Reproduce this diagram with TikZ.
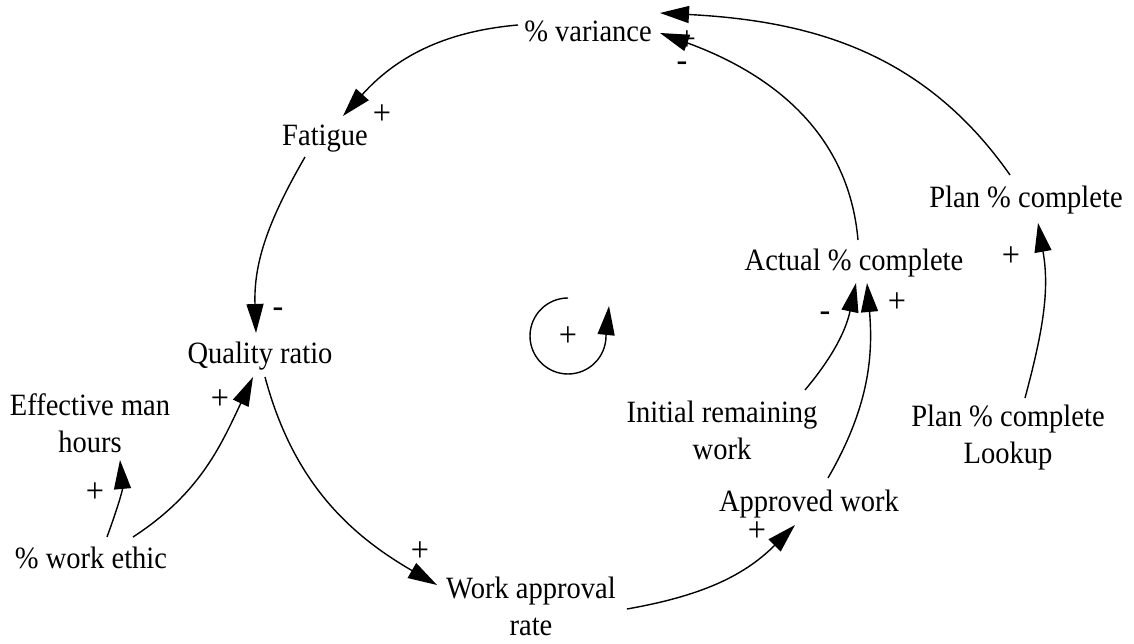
\documentclass[tikz,border=0pt]{standalone}
\usepackage{fontspec}
\setmainfont{Liberation Serif}[FakeStretch=0.92]
\usetikzlibrary{arrows.meta,calc}
\begin{document}
\begin{tikzpicture}[x=1pt,y=1pt,
  varbox/.style={font=\fontsize{31}{37}\selectfont, inner sep=0pt, align=center},
  sgn/.style={font=\fontsize{35}{36}\selectfont, inner sep=0pt},
  link/.style={line width=1.4pt, -{Triangle[length=29pt,width=17pt]}}]
\fill[white] (0,0) rectangle (1134,644);
\path[use as bounding box] (0,0) rectangle (1134,644);

% variables
\node[varbox, anchor=base] (var) at (588,602) {\% variance};
\node[varbox, anchor=base] (fat) at (325,498) {Fatigue};
\node[varbox, anchor=base] (qual) at (260,280) {Quality ratio};
\node[varbox] (emh) at (90,221) {Effective man\\hours};
\node[varbox, anchor=base] (wet) at (91,75) {\% work ethic};
\node[varbox] (war) at (531,38) {Work approval\\rate};
\node[varbox, anchor=base] (app) at (809,132) {Approved work};
\node[varbox] (irw) at (722,214) {Initial remaining\\work};
\node[varbox, anchor=base] (act) at (854,373) {Actual \% complete};
\node[varbox, anchor=base] (plan) at (1026,436) {Plan \% complete};
\node[varbox] (look) at (1008,206) {Plan \% complete\\Lookup};

% polarity signs
\node[sgn] (s1) at (382,529) {+};
\node[sgn] (s2) at (278,331) {-};
\node[sgn] (s3) at (420,92) {+};
\node[sgn] (s4) at (757,112) {+};
\node[sgn] (s5) at (897,341) {+};
\node[sgn] (s6) at (825,327) {-};
\node[sgn] (s7) at (687,603) {+};
\node[sgn] (s8) at (682,577) {-};
\node[sgn] (s9) at (1011,387) {+};
\node[sgn] (s10) at (95,151) {+};
\node[sgn] (s11) at (220,244) {+};
\node[sgn] (loopsign) at (568,307) {+};

% links
\draw[link] ($(var.base)+(-70,17)$) to[out=185,in=48] ($(fat.base)+(18,30)$);
\draw[link] ($(fat.base)+(-20,-11)$) to[out=240,in=92] ($(qual.base)+(-4,31)$);
\draw[link] ($(qual.base)+(5,-13)$) to[out=285,in=150] ($(war.center)+(-94,21)$);
\draw[link] ($(war.center)+(96,-3)$) to[out=10,in=225] ($(app.base)+(-14,-13)$);
\draw[link] ($(app.base)+(19,34)$) to[out=60,in=275] ($(act.base)+(13,-12)$);
\draw[link] ($(irw.center)+(83,40)$) to[out=50,in=258] ($(act.base)+(2,-12)$);
\draw[link] ($(act.base)+(4,31)$) to[out=95,in=-20] ($(var.base)+(72,9)$);
\draw[link] ($(plan.base)+(-16,33)$) to[out=125,in=-3] ($(var.base)+(72,29)$);
\draw[link] ($(look.center)+(17,40)$) to[out=75,in=-80] ($(plan.base)+(12,-15)$);
\draw[link] ($(wet.base)+(16,32)$) to[out=70,in=-85] ($(emh.center)+(30,-37)$);
\draw[link] ($(wet.base)+(42,32)$) to[out=33,in=245] ($(qual.base)+(-7,-13)$);

% loop marker
\draw[link] ($(loopsign)+(0,39)$) arc[start angle=90,end angle=360,radius=38] -- ++(3,30);
\end{tikzpicture}
\end{document}
